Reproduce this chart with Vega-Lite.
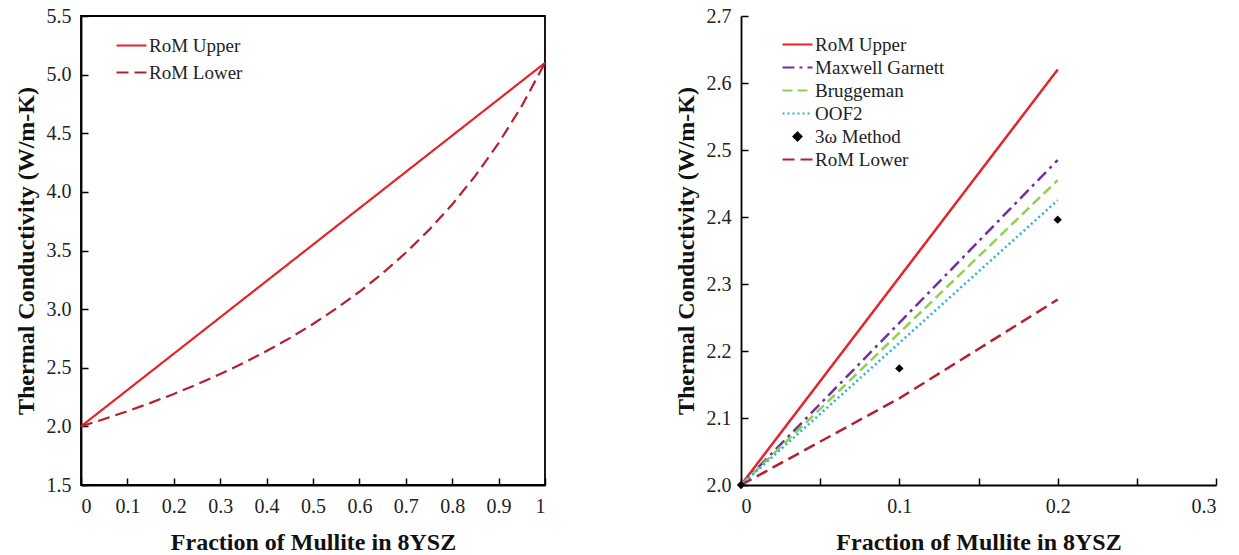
{
  "$schema": "https://vega.github.io/schema/vega-lite/v6.json",
  "background": "white",
  "padding": {"left": 13, "top": 5, "right": 5, "bottom": 1},
  "spacing": 123,
  "resolve": {
    "scale": {"color": "independent", "strokeDash": "independent"},
    "legend": {"color": "independent", "strokeDash": "independent"}
  },
  "config": {
    "font": "Liberation Serif",
    "axis": {
      "grid": false,
      "domainColor": "black",
      "domainWidth": 1.8,
      "tickColor": "black",
      "tickWidth": 1.5,
      "tickSize": -7,
      "labelFont": "Liberation Serif",
      "labelFontSize": 20,
      "labelColor": "#222",
      "titleFont": "Liberation Serif",
      "titleFontSize": 24,
      "titleFontWeight": "bold",
      "titleColor": "#111"
    },
    "axisX": {"labelPadding": 18, "titlePadding": 14},
    "axisY": {"labelPadding": 17, "titlePadding": 8},
    "legend": {
      "labelFont": "Liberation Serif",
      "labelFontSize": 19,
      "labelColor": "#222",
      "symbolStrokeWidth": 2.2,
      "symbolSize": 900,
      "labelOffset": 1
    }
  },
  "datasets": {
    "a": [
      {"f": 0, "k": 2.0, "s": "RoM Upper"},
      {"f": 1, "k": 5.1, "s": "RoM Upper"},
      {"f": 0, "k": 2.0, "s": "RoM Lower"},
      {"f": 0.05, "k": 2.0627, "s": "RoM Lower"},
      {"f": 0.1, "k": 2.1294, "s": "RoM Lower"},
      {"f": 0.15, "k": 2.2006, "s": "RoM Lower"},
      {"f": 0.2, "k": 2.2768, "s": "RoM Lower"},
      {"f": 0.25, "k": 2.3584, "s": "RoM Lower"},
      {"f": 0.3, "k": 2.446, "s": "RoM Lower"},
      {"f": 0.35, "k": 2.5405, "s": "RoM Lower"},
      {"f": 0.4, "k": 2.6425, "s": "RoM Lower"},
      {"f": 0.45, "k": 2.753, "s": "RoM Lower"},
      {"f": 0.5, "k": 2.8732, "s": "RoM Lower"},
      {"f": 0.55, "k": 3.0044, "s": "RoM Lower"},
      {"f": 0.6, "k": 3.1481, "s": "RoM Lower"},
      {"f": 0.65, "k": 3.3063, "s": "RoM Lower"},
      {"f": 0.7, "k": 3.4812, "s": "RoM Lower"},
      {"f": 0.75, "k": 3.6757, "s": "RoM Lower"},
      {"f": 0.8, "k": 3.8931, "s": "RoM Lower"},
      {"f": 0.85, "k": 4.1379, "s": "RoM Lower"},
      {"f": 0.9, "k": 4.4156, "s": "RoM Lower"},
      {"f": 0.95, "k": 4.7332, "s": "RoM Lower"},
      {"f": 1.0, "k": 5.1, "s": "RoM Lower"}
    ],
    "b": [
      {"f": 0, "k": 2.0, "s": "RoM Upper"},
      {"f": 0.1, "k": 2.31, "s": "RoM Upper"},
      {"f": 0.2, "k": 2.62, "s": "RoM Upper"},
      {"f": 0, "k": 2.0, "s": "Maxwell Garnett"},
      {"f": 0.1, "k": 2.242, "s": "Maxwell Garnett"},
      {"f": 0.2, "k": 2.485, "s": "Maxwell Garnett"},
      {"f": 0, "k": 2.0, "s": "Bruggeman"},
      {"f": 0.1, "k": 2.227, "s": "Bruggeman"},
      {"f": 0.2, "k": 2.455, "s": "Bruggeman"},
      {"f": 0, "k": 2.0, "s": "OOF2"},
      {"f": 0.1, "k": 2.212, "s": "OOF2"},
      {"f": 0.2, "k": 2.425, "s": "OOF2"},
      {"f": 0, "k": 2.0, "s": "RoM Lower"},
      {"f": 0.1, "k": 2.1294, "s": "RoM Lower"},
      {"f": 0.2, "k": 2.2768, "s": "RoM Lower"}
    ],
    "m": [
      {"f": 0, "k": 2.0, "s": "3ω Method"},
      {"f": 0.1, "k": 2.174, "s": "3ω Method"},
      {"f": 0.2, "k": 2.396, "s": "3ω Method"}
    ]
  },
  "hconcat": [
    {
      "width": 464,
      "height": 469,
      "view": {"stroke": "black", "strokeWidth": 1.8},
      "layer": [
        {
          "data": {"name": "a"},
          "mark": {"type": "line", "strokeWidth": 2.2},
          "encoding": {
            "x": {
              "field": "f", "type": "quantitative",
              "scale": {"domain": [0, 1], "nice": false},
              "axis": {
                "title": "Fraction of Mullite in 8YSZ",
                "values": [0,0.05,0.1,0.15,0.2,0.25,0.3,0.35,0.4,0.45,0.5,0.55,0.6,0.65,0.7,0.75,0.8,0.85,0.9,0.95,1],
                "labelExpr": "abs(datum.value*10 - round(datum.value*10)) < 0.001 ? format(datum.value, '~g') : ''"
              }
            },
            "y": {
              "field": "k", "type": "quantitative",
              "scale": {"domain": [1.5, 5.5], "nice": false},
              "axis": {
                "title": "Thermal Conductivity (W/m-K)",
                "values": [1.5,1.75,2,2.25,2.5,2.75,3,3.25,3.5,3.75,4,4.25,4.5,4.75,5,5.25,5.5],
                "labelExpr": "abs(datum.value*2 - round(datum.value*2)) < 0.001 ? format(datum.value, '.1f') : ''"
              }
            },
            "color": {
              "field": "s", "type": "nominal",
              "scale": {"domain": ["RoM Upper", "RoM Lower"], "range": ["#E3242B", "#B81F2E"]},
              "legend": {"title": null, "orient": "none", "legendX": 34, "legendY": 16, "rowPadding": 0, "clipHeight": 27}
            },
            "strokeDash": {
              "field": "s", "type": "nominal",
              "scale": {"domain": ["RoM Upper", "RoM Lower"], "range": [[1, 0], [12, 6]]},
              "legend": {"title": null, "orient": "none", "legendX": 34, "legendY": 16, "rowPadding": 0, "clipHeight": 27}
            }
          }
        },
        {
          "mark": {"type": "text", "fontSize": 24, "fontWeight": "bold", "align": "right", "baseline": "bottom", "dx": -9, "dy": -4, "color": "#111"},
          "encoding": {
            "x": {"datum": 1, "type": "quantitative"},
            "y": {"datum": 1.5, "type": "quantitative"},
            "text": {"value": "(a)"}
          }
        }
      ]
    },
    {
      "width": 475,
      "height": 469,
      "view": {"stroke": null},
      "layer": [
        {
          "data": {"name": "b"},
          "mark": {"type": "line", "strokeWidth": 2.5},
          "encoding": {
            "x": {
              "field": "f", "type": "quantitative",
              "scale": {"domain": [0, 0.3], "nice": false},
              "axis": {
                "title": "Fraction of Mullite in 8YSZ",
                "values": [0,0.05,0.1,0.15,0.2,0.25,0.3],
                "labelExpr": "abs(datum.value*10 - round(datum.value*10)) < 0.001 ? format(datum.value, '~g') : ''"
              }
            },
            "y": {
              "field": "k", "type": "quantitative",
              "scale": {"domain": [2.0, 2.7], "nice": false},
              "axis": {
                "title": "Thermal Conductivity (W/m-K)",
                "values": [2,2.05,2.1,2.15,2.2,2.25,2.3,2.35,2.4,2.45,2.5,2.55,2.6,2.65,2.7],
                "labelExpr": "abs(datum.value*10 - round(datum.value*10)) < 0.001 ? format(datum.value, '.1f') : ''"
              }
            },
            "color": {
              "field": "s", "type": "nominal",
              "scale": {
                "domain": ["RoM Upper", "Maxwell Garnett", "Bruggeman", "OOF2", "3ω Method", "RoM Lower"],
                "range": ["#E3242B", "#7030A0", "#92D050", "#2AB0E0", "#000000", "#B81F2E"]
              },
              "legend": {
                "title": null, "orient": "none", "legendX": 40, "legendY": 17, "rowPadding": 0, "clipHeight": 23,
                "encode": {
                  "symbols": {
                    "update": {
                      "shape": {"signal": "datum.value === '3ω Method' ? 'diamond' : 'stroke'"},
                      "size": {"signal": "datum.value === '3ω Method' ? 60 : 900"},
                      "fill": {"signal": "datum.value === '3ω Method' ? 'black' : 'transparent'"}
                    }
                  }
                }
              }
            },
            "strokeDash": {
              "field": "s", "type": "nominal",
              "scale": {
                "domain": ["RoM Upper", "Maxwell Garnett", "Bruggeman", "OOF2", "3ω Method", "RoM Lower"],
                "range": [[1, 0], [12, 5, 3, 5], [10, 5], [2, 3], [1, 0], [12, 6]]
              },
              "legend": {
                "title": null, "orient": "none", "legendX": 40, "legendY": 17, "rowPadding": 0, "clipHeight": 23,
                "encode": {
                  "symbols": {
                    "update": {
                      "shape": {"signal": "datum.value === '3ω Method' ? 'diamond' : 'stroke'"},
                      "size": {"signal": "datum.value === '3ω Method' ? 60 : 900"},
                      "fill": {"signal": "datum.value === '3ω Method' ? 'black' : 'transparent'"}
                    }
                  }
                }
              }
            }
          }
        },
        {
          "data": {"name": "m"},
          "mark": {"type": "point", "shape": "diamond", "filled": true, "size": 70, "opacity": 1},
          "encoding": {
            "x": {"field": "f", "type": "quantitative"},
            "y": {"field": "k", "type": "quantitative"},
            "color": {"field": "s", "type": "nominal", "legend": null}
          }
        },
        {
          "mark": {"type": "text", "fontSize": 24, "fontWeight": "bold", "align": "right", "baseline": "bottom", "dx": 14, "dy": -4, "color": "#111"},
          "encoding": {
            "x": {"datum": 0.3, "type": "quantitative"},
            "y": {"datum": 2.0, "type": "quantitative"},
            "text": {"value": "(b)"}
          }
        }
      ]
    }
  ]
}
